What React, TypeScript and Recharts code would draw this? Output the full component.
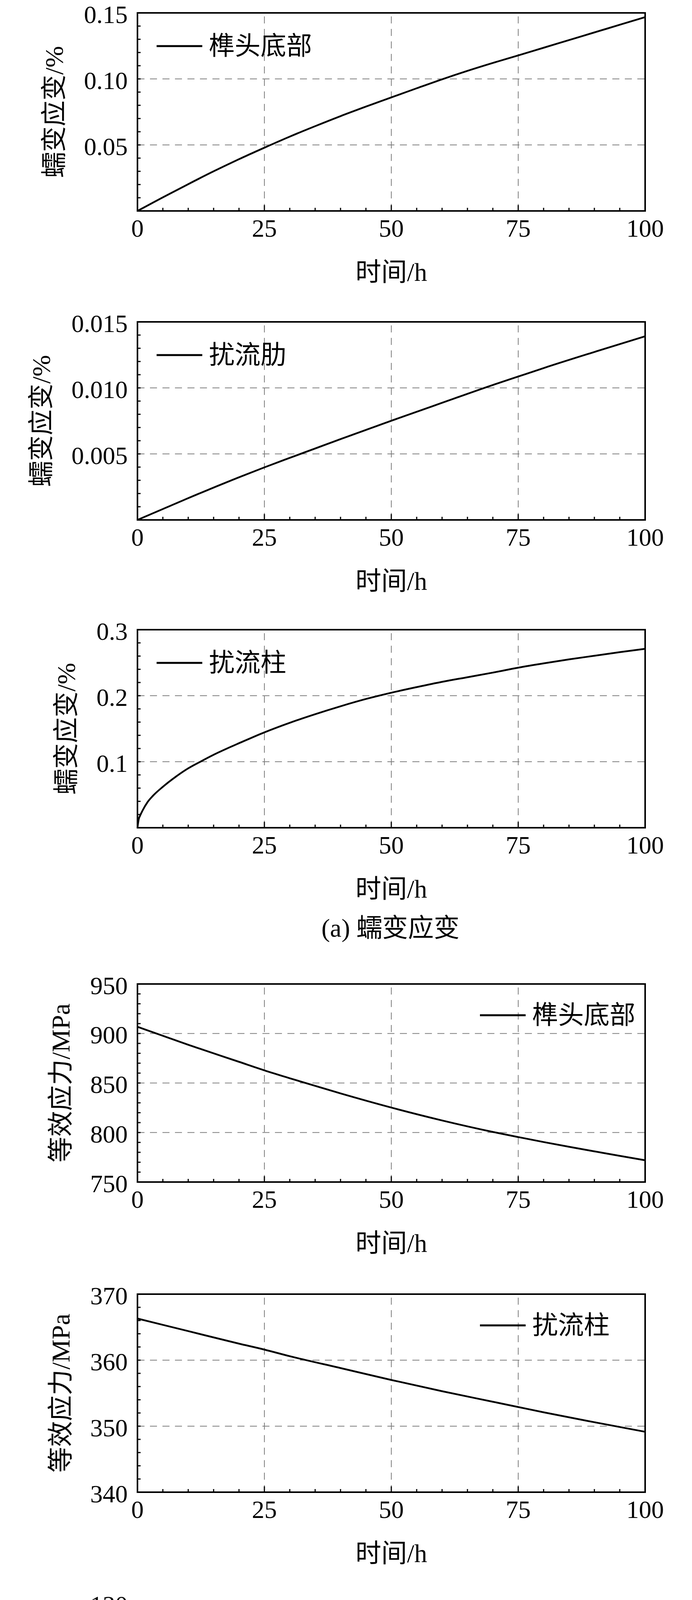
import React from 'react';
import {
  LineChart,
  Line,
  XAxis,
  YAxis,
  ReferenceLine,
  ReferenceArea,
  Legend,
} from 'recharts';

const FONT = '"Liberation Serif", "Times New Roman", "Noto Sans CJK SC", serif';

// shared time axis (h)
const timeTicks = [0, 25, 50, 75, 100];
const timeAllTicks = [0, 5, 10, 15, 20, 25, 30, 35, 40, 45, 50, 55, 60, 65, 70, 75, 80, 85, 90, 95, 100];
const timeGrid = [25, 50, 75];

// (a) creep strain, tenon bottom
const tTenonStrain = [0, 5, 10, 15, 20, 25, 30, 35, 40, 45, 50, 55, 60, 65, 70, 75, 80, 85, 90, 95, 100];
const tenonStrain = [
  0, 0.0103, 0.0203, 0.03, 0.0392, 0.0479, 0.0563, 0.0642, 0.0718, 0.079, 0.086, 0.0929, 0.0997,
  0.1061, 0.1121, 0.1178, 0.1236, 0.1294, 0.1352, 0.141, 0.1468,
];

// (a) creep strain, turbulator rib
const tRibStrain = [0, 10, 20, 25, 30, 40, 50, 60, 70, 75, 80, 90, 100];
const ribStrain = [0, 0.00165, 0.00323, 0.00398, 0.0047, 0.00612, 0.00751, 0.00887, 0.01022, 0.01086, 0.0115, 0.01272, 0.01391];

// (a) creep strain, pin fin
const tPinStrain = [0, 0.25, 0.5, 1, 2, 3, 5, 7.5, 10, 12.5, 15, 17.5, 20, 25, 30, 35, 40, 45, 50, 55, 60, 65, 70, 75, 80, 85, 90, 95, 100];
const pinStrain = [
  0, 0.013, 0.018, 0.026, 0.039, 0.048, 0.062, 0.077, 0.09, 0.1005, 0.1105, 0.1195, 0.128, 0.1445, 0.159,
  0.172, 0.184, 0.195, 0.2045, 0.213, 0.221, 0.228, 0.235, 0.2425, 0.249, 0.255, 0.2605, 0.266, 0.271,
];

// (b) equivalent stress, tenon bottom
const tTenonStress = [0, 10, 20, 25, 30, 40, 50, 60, 70, 75, 80, 85, 90, 95, 100];
const tenonStress = [906.8, 888.6, 871.4, 862.8, 854.8, 839.5, 825.2, 812.2, 800.6, 795.4, 790.4, 785.6, 781.0, 776.4, 772.0];

// (b) equivalent stress, pin fin (upper)
const tPinStressA = [0, 10, 20, 25, 30, 40, 50, 60, 70, 75, 80, 90, 100];
const pinStressA = [366.3, 364.4, 362.5, 361.6, 360.6, 358.8, 357.0, 355.3, 353.7, 352.9, 352.1, 350.6, 349.15];

// (b) equivalent stress, pin fin (lower)
const tPinStressB = [0, 0.5, 1, 2, 3, 4, 6, 8, 10, 12, 14, 16, 18, 20, 22.5, 25, 30, 35, 40, 45, 50, 55, 60, 65, 70, 75, 80, 85, 90, 95, 100];
const pinStressB = [
  119.5, 117.3, 115.2, 110.6, 107.8, 105.2, 101.1, 97.9, 95.3, 93.2, 91.6, 90.1, 88.8, 87.7, 86.7, 85.8,
  84.1, 82.5, 81.0, 79.6, 78.4, 77.3, 76.3, 75.5, 74.8, 74.1, 73.5, 72.9, 72.3, 71.7, 71.2,
];

// y ticks: labelled ones and the full set incl. minor marks
const ticksTenonStrain = [0.05, 0.1, 0.15];
const allTenonStrain = [0, 0.01, 0.02, 0.03, 0.04, 0.05, 0.06, 0.07, 0.08, 0.09, 0.1, 0.11, 0.12, 0.13, 0.14, 0.15];
const ticksRibStrain = [0.005, 0.01, 0.015];
const allRibStrain = [0, 0.001, 0.002, 0.003, 0.004, 0.005, 0.006, 0.007, 0.008, 0.009, 0.01, 0.011, 0.012, 0.013, 0.014, 0.015];
const ticksPinStrain = [0.1, 0.2, 0.3];
const allPinStrain = [0, 0.02, 0.04, 0.06, 0.08, 0.1, 0.12, 0.14, 0.16, 0.18, 0.2, 0.22, 0.24, 0.26, 0.28, 0.3];
const ticksTenonStress = [750, 800, 850, 900, 950];
const allTenonStress = [750, 760, 770, 780, 790, 800, 810, 820, 830, 840, 850, 860, 870, 880, 890, 900, 910, 920, 930, 940, 950];
const ticksPinStressA = [340, 350, 360, 370];
const allPinStressA = [340, 342, 344, 346, 348, 350, 352, 354, 356, 358, 360, 362, 364, 366, 368, 370];
const ticksPinStressB = [70, 90, 110, 130];
const allPinStressB = [70, 75, 80, 85, 90, 95, 100, 105, 110, 115, 120, 125, 130];

const PLOT_TOP = 45;
const PLOT_H = 507;
const AXIS_H = 200;
const CHART_H = 765;
const X_GAP = 21; // plot bottom to tick label top
const Y_GAP = 25; // tick label end to plot left

const near = (a: number, b: number) => Math.abs(a - b) < 1e-9;

const XTick = (props: any) => {
  const { x, y, payload } = props;
  const v = payload.value;
  const base = y - X_GAP;
  const major = timeTicks.some((t) => near(t, v));
  const edge = v === 0 || v === 100;
  return (
    <g>
      {!edge && (
        <line x1={x} x2={x} y1={base} y2={base - (major ? 15 : 8)} stroke="#000" strokeWidth={3} />
      )}
      {major && (
        <text x={x} y={y} dy="0.71em" textAnchor="middle" fill="#000" fontSize={64} fontFamily={FONT}>
          {v}
        </text>
      )}
    </g>
  );
};

const makeYTick = (labels: number[], domain: [number, number], digits: number) => (props: any) => {
  const { x, y, payload } = props;
  const v = payload.value;
  const base = x + Y_GAP;
  const major = labels.some((t) => near(t, v));
  const edge = near(v, domain[0]) || near(v, domain[1]);
  return (
    <g>
      {!edge && <line x1={base} x2={base + 8} y1={y} y2={y} stroke="#000" strokeWidth={3} />}
      {major && (
        <text x={x} y={y} dy="0.4em" textAnchor="end" fill="#000" fontSize={64} fontFamily={FONT}>
          {v.toFixed(digits)}
        </text>
      )}
    </g>
  );
};

interface PanelProps {
  top: number;
  times: number[];
  values: number[];
  name: string;
  yLabel: string;
  yDomain: [number, number];
  yTicks: number[];
  yAll: number[];
  digits: number;
  labelX: number;
  legendRight?: boolean;
}

const LegendItem = ({ name }: { name: string }) => (
  <div style={{ display: 'flex', alignItems: 'center', height: 66, whiteSpace: 'nowrap' }}>
    <svg width={117} height={8}>
      <line x1={0} y1={4} x2={117} y2={4} stroke="#000" strokeWidth={5} />
    </svg>
    <span style={{ marginLeft: 17, fontSize: 66, lineHeight: '66px', fontFamily: FONT, color: '#000' }}>
      {name}
    </span>
  </div>
);

const gridStyle = { stroke: '#808080', strokeWidth: 2, strokeDasharray: '18 14' };

const Panel: React.FC<PanelProps> = (p) => {
  const data = p.times.map((t, i) => ({ t, v: p.values[i] }));
  const legendLeft = p.legendRight ? 1229 : 401;
  const legendTop = PLOT_TOP + (p.legendRight ? 47 : 52);
  const yGrid = p.yTicks.filter((v) => !near(v, p.yDomain[0]) && !near(v, p.yDomain[1]));
  const YTick = makeYTick(p.yTicks, p.yDomain, p.digits);

  return (
    <div style={{ position: 'absolute', left: 0, top: p.top - PLOT_TOP }}>
      <LineChart
        width={1772}
        height={CHART_H}
        data={data}
        margin={{ top: PLOT_TOP, right: 120, bottom: CHART_H - PLOT_TOP - PLOT_H - AXIS_H, left: 0 }}
      >
        <XAxis
          dataKey="t"
          type="number"
          domain={[0, 100]}
          ticks={timeAllTicks}
          interval={0}
          height={AXIS_H}
          axisLine={false}
          tickLine={false}
          tickSize={0}
          tickMargin={X_GAP}
          tick={<XTick />}
          label={{ value: '时间/h', position: 'insideBottom', offset: 21, fill: '#000', fontSize: 66, fontFamily: FONT }}
        />
        <YAxis
          type="number"
          domain={p.yDomain}
          ticks={p.yAll}
          interval={0}
          width={352}
          axisLine={false}
          tickLine={false}
          tickSize={0}
          tickMargin={Y_GAP}
          tick={<YTick />}
          label={{
            value: p.yLabel,
            angle: -90,
            position: 'insideLeft',
            offset: p.labelX,
            fill: '#000',
            fontSize: 66,
            fontFamily: FONT,
            style: { textAnchor: 'middle' },
          }}
        />
        {timeGrid.map((t) => (
          <ReferenceLine key={`x${t}`} x={t} {...gridStyle} />
        ))}
        {yGrid.map((v) => (
          <ReferenceLine key={`y${v}`} y={v} {...gridStyle} />
        ))}
        <ReferenceArea
          x1={0}
          x2={100}
          y1={p.yDomain[0]}
          y2={p.yDomain[1]}
          fill="none"
          fillOpacity={0}
          stroke="#000"
          strokeWidth={4}
        />
        <Legend
          layout="horizontal"
          verticalAlign="middle"
          align="center"
          wrapperStyle={{ left: legendLeft, top: legendTop, width: 'auto', height: 'auto' }}
          content={() => <LegendItem name={p.name} />}
        />
        <Line
          type="monotone"
          dataKey="v"
          name={p.name}
          stroke="#000"
          strokeWidth={4.5}
          dot={false}
          isAnimationActive={false}
        />
      </LineChart>
    </div>
  );
};

const captionStyle: React.CSSProperties = {
  position: 'absolute',
  left: 600,
  width: 800,
  textAlign: 'center',
  fontSize: 66,
  lineHeight: '66px',
  fontFamily: FONT,
  color: '#000',
};

export default function App() {
  return (
    <div
      style={{
        position: 'relative',
        margin: '-8px 0 -8px -8px',
        width: 1772,
        height: 4913,
        background: '#fff',
        overflow: 'hidden',
      }}
    >
      <Panel
        top={33}
        times={tTenonStrain}
        values={tenonStrain}
        name="榫头底部"
        yLabel="蠕变应变/%"
        yDomain={[0, 0.15]}
        yTicks={ticksTenonStrain}
        yAll={allTenonStrain}
        digits={2}
        labelX={138}
      />
      <Panel
        top={824}
        times={tRibStrain}
        values={ribStrain}
        name="扰流肋"
        yLabel="蠕变应变/%"
        yDomain={[0, 0.015]}
        yTicks={ticksRibStrain}
        yAll={allRibStrain}
        digits={3}
        labelX={105}
      />
      <Panel
        top={1612}
        times={tPinStrain}
        values={pinStrain}
        name="扰流柱"
        yLabel="蠕变应变/%"
        yDomain={[0, 0.3]}
        yTicks={ticksPinStrain}
        yAll={allPinStrain}
        digits={1}
        labelX={169}
      />
      <div style={{ ...captionStyle, top: 2376 - 33 }}>(a) 蠕变应变</div>
      <Panel
        top={2519}
        times={tTenonStress}
        values={tenonStress}
        name="榫头底部"
        yLabel="等效应力/MPa"
        yDomain={[750, 950]}
        yTicks={ticksTenonStress}
        yAll={allTenonStress}
        digits={0}
        labelX={155}
        legendRight
      />
      <Panel
        top={3313}
        times={tPinStressA}
        values={pinStressA}
        name="扰流柱"
        yLabel="等效应力/MPa"
        yDomain={[340, 370]}
        yTicks={ticksPinStressA}
        yAll={allPinStressA}
        digits={0}
        labelX={155}
        legendRight
      />
      <Panel
        top={4104}
        times={tPinStressB}
        values={pinStressB}
        name="扰流柱"
        yLabel="等效应力/MPa"
        yDomain={[70, 130]}
        yTicks={ticksPinStressB}
        yAll={allPinStressB}
        digits={0}
        labelX={155}
        legendRight
      />
      <div style={{ ...captionStyle, top: 4871 - 33 }}>(b) 等效应力</div>
    </div>
  );
}
